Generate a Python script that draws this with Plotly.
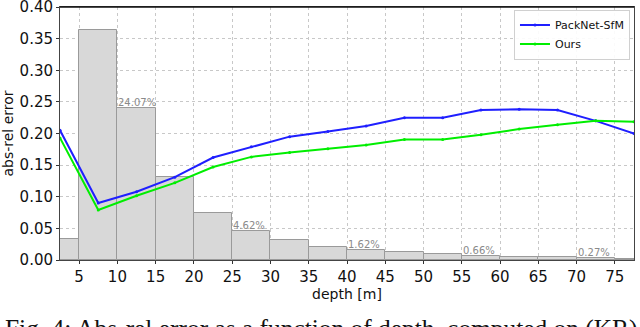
import plotly.graph_objects as go

depth_centers = [2.5, 7.5, 12.5, 17.5, 22.5, 27.5, 32.5, 37.5, 42.5, 47.5, 52.5, 57.5, 62.5, 67.5, 72.5, 77.5]
hist_fraction = [0.033, 0.363, 0.2407, 0.131, 0.074, 0.0462, 0.032, 0.021, 0.0162, 0.012, 0.009, 0.0066, 0.0047, 0.0045, 0.0027, 0.001]
hist_labels = ["", "", "24.07%", "", "", "4.62%", "", "", "1.62%", "", "", "0.66%", "", "", "0.27%", ""]
packnet = [0.205, 0.090, 0.108, 0.131, 0.162, 0.179, 0.195, 0.203, 0.212, 0.225, 0.225, 0.237, 0.2385, 0.237, 0.220, 0.200]
ours = [0.193, 0.079, 0.1015, 0.122, 0.147, 0.163, 0.170, 0.176, 0.182, 0.1905, 0.1905, 0.198, 0.207, 0.214, 0.220, 0.2185]
x_ticks = [5, 10, 15, 20, 25, 30, 35, 40, 45, 50, 55, 60, 65, 70, 75]
y_ticks = [0.0, 0.05, 0.10, 0.15, 0.20, 0.25, 0.30, 0.35, 0.40]
caption = "Fig. 4: Abs-rel error as a function of depth, computed on (KR)"

fig = go.Figure()
fig.add_trace(go.Bar(x=depth_centers, y=hist_fraction, width=5,
                     marker=dict(color="#d8d8d8", line=dict(color="#9a9a9a", width=1)),
                     showlegend=False))
fig.add_trace(go.Scatter(x=depth_centers, y=packnet, mode="lines+markers", name="PackNet-SfM",
                         line=dict(color="#1f1fff", width=2), marker=dict(size=3, color="#1f1fff")))
fig.add_trace(go.Scatter(x=depth_centers, y=ours, mode="lines+markers", name="Ours",
                         line=dict(color="#00ee00", width=2), marker=dict(size=3, color="#00ee00")))

for xc, h, lab in zip(depth_centers, hist_fraction, hist_labels):
    if lab:
        fig.add_annotation(x=xc - 2.5, y=h, text=lab, showarrow=False, xanchor="left", yanchor="bottom",
                           xshift=-1, yshift=-2, font=dict(family="DejaVu Sans", size=10, color="#8a8a8a"))

fig.add_annotation(x=0.0, y=-0.205, xref="paper", yref="paper", text=caption, showarrow=False,
                   xanchor="left", yanchor="top", xshift=-57,
                   font=dict(family="Liberation Serif", size=25.4, color="#111111"))

grid = dict(showgrid=True, gridcolor="#c8c8c8", griddash="dot", gridwidth=1)
fig.update_xaxes(range=[2.5, 77.5], tickvals=x_ticks, ticks="outside", ticklen=3, tickcolor="#333",
                 showline=True, linecolor="#444", linewidth=1, mirror=True, automargin=False,
                 ticklabeloverflow="allow",
                 title=dict(text="depth [m]", font=dict(size=14, color="#111"), standoff=4),
                 tickfont=dict(size=15, color="#111"), zeroline=False, **grid)
fig.update_yaxes(range=[0, 0.40], tickvals=y_ticks, tickformat=".2f", ticks="outside", ticklen=3, tickcolor="#333",
                 showline=True, linecolor="#444", linewidth=1, mirror=True, automargin=False,
                 ticklabeloverflow="allow",
                 title=dict(text="abs-rel error", font=dict(size=14, color="#111"), standoff=6),
                 tickfont=dict(size=15, color="#111"), zeroline=False, **grid)

# darker top frame like the reference
fig.add_shape(type="line", xref="paper", yref="paper", x0=0, x1=1, y0=1, y1=1,
              line=dict(color="#111111", width=1.5))

fig.update_layout(width=640, height=327, margin=dict(l=60, r=6, t=7, b=67),
                  plot_bgcolor="white", paper_bgcolor="white",
                  font=dict(family="DejaVu Sans"), bargap=0,
                  legend=dict(x=0.993, y=0.99, xanchor="right", yanchor="top",
                              bgcolor="rgba(255,255,255,0.9)", bordercolor="#d0d0d0", borderwidth=1,
                              font=dict(size=11, color="#111"), tracegroupgap=0, itemwidth=30))

fig.write_html("out.html", config={"displayModeBar": False},
               post_script="document.body.style.margin='0';document.body.style.overflow='hidden';")
